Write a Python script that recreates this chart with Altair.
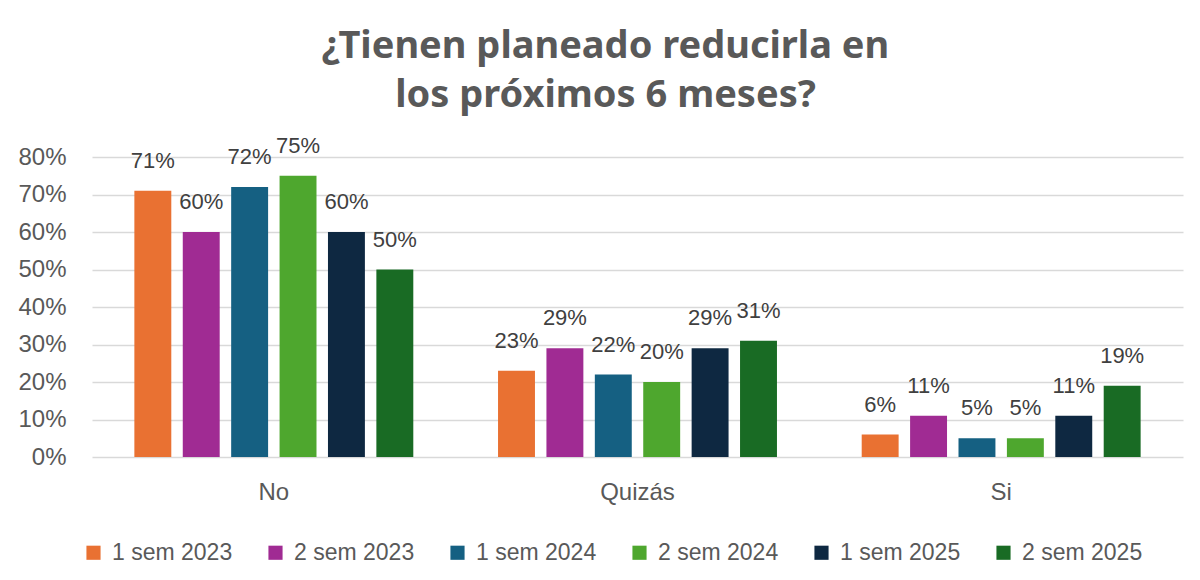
import altair as alt
import pandas as pd

categories = ["No", "Quizás", "Si"]
series = ["1 sem 2023", "2 sem 2023", "1 sem 2024", "2 sem 2024", "1 sem 2025", "2 sem 2025"]
colors = ["#E97132", "#A02B93", "#156082", "#4EA72E", "#0E2841", "#196B24"]
values_no = [71, 60, 72, 75, 60, 50]
values_quizas = [23, 29, 22, 20, 29, 31]
values_si = [6, 11, 5, 5, 11, 19]
tick_values = [0.0, 0.1, 0.2, 0.3, 0.4, 0.5, 0.6, 0.7, 0.8]

rows = []
for cat, vals in zip(categories, [values_no, values_quizas, values_si]):
    for s, v in zip(series, vals):
        rows.append({"cat": cat, "serie": s, "val": v / 100.0})
df = pd.DataFrame(rows)

x = alt.X("cat:N", sort=categories, title=None,
          scale=alt.Scale(paddingInner=0.233, paddingOuter=0.1165),
          axis=alt.Axis(labelAngle=0, labelFontSize=24, labelColor="#595959",
                        labelFont="Liberation Sans", labelPadding=23,
                        domain=False, ticks=False))
xo = alt.XOffset("serie:N", sort=series,
                 scale=alt.Scale(paddingInner=0.237, paddingOuter=0))
y = alt.Y("val:Q", title=None,
          scale=alt.Scale(domain=[0, 0.8], nice=False),
          axis=alt.Axis(format=".0%", values=tick_values, tickCount=9,
                        labelFontSize=24, labelColor="#595959",
                        labelFont="Liberation Sans", labelPadding=26,
                        labelOverlap=False,
                        domain=False, ticks=False, gridColor="#D9D9D9",
                        gridWidth=1.5))

bars = alt.Chart(df).mark_bar().encode(
    x=x, xOffset=xo, y=y,
    color=alt.Color("serie:N", sort=series,
                    scale=alt.Scale(domain=series, range=colors),
                    legend=alt.Legend(title=None, orient="none", direction="horizontal",
                                      legendX=-10, legendY=384,
                                      symbolType="square", symbolSize=200,
                                      symbolStrokeWidth=0,
                                      labelFontSize=23, labelColor="#595959",
                                      labelFont="Liberation Sans",
                                      labelOffset=7, columnPadding=31,
                                      labelLimit=300))
)

labels = alt.Chart(df).mark_text(
    baseline="bottom", dy=-18, fontSize=22, color="#404040", font="Liberation Sans"
).encode(
    x=x, xOffset=xo, y=y,
    text=alt.Text("val:Q", format=".0%")
)

chart = (bars + labels).properties(
    width=1091, height=300,
    title=alt.TitleParams(
        ["¿Tienen planeado reducirla en", "los próximos 6 meses?"],
        fontSize=38, font="Noto Sans", fontWeight="bold", color="#595959",
        anchor="middle", dx=-32, offset=20, lineHeight=49
    ),
    autosize=alt.AutoSizeParams(type="none"),
    padding={"left": 84, "top": 149, "right": 8, "bottom": 112}
).configure_view(stroke=None)

chart.save("out.html", embed_options={"renderer": "svg", "actions": False})
